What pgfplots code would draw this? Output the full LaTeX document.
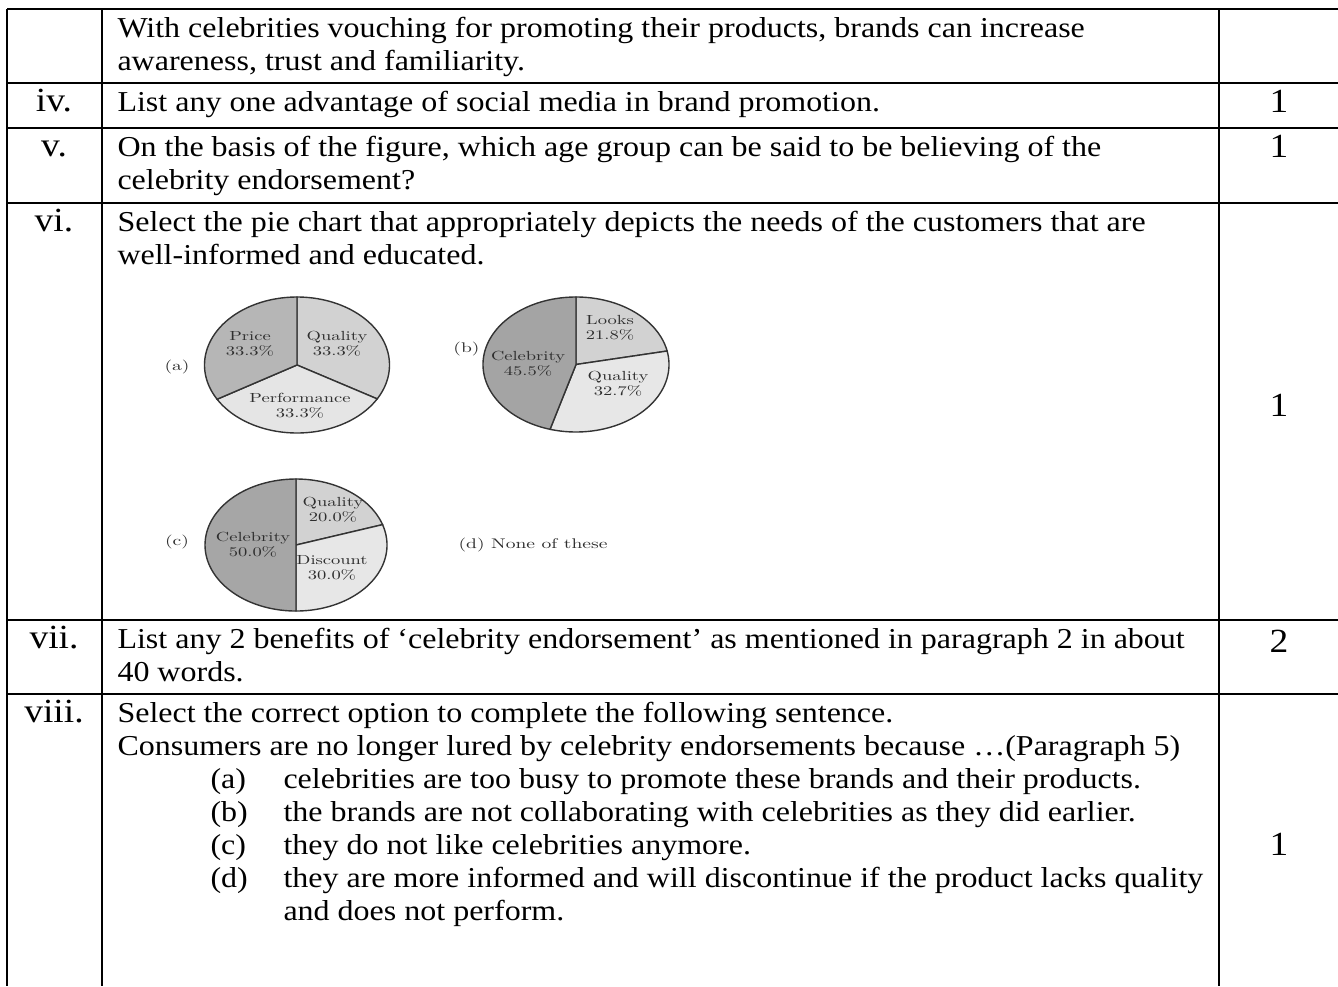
\documentclass[border=0pt]{standalone}
\usepackage{fontspec}
\newfontfamily\tnr{Liberation Serif}[FakeStretch=1.11]
\newfontfamily\lmten{lmroman10-regular}[Extension=.otf, FakeStretch=1.4]
\usepackage{pgfplots}
\pgfplotsset{compat=1.18}
\definecolor{pieedge}{HTML}{333333}
\definecolor{pietext}{HTML}{2E2E2E}
\definecolor{aPrice}{HTML}{B6B6B6}
\definecolor{aQual}{HTML}{D2D2D2}
\definecolor{aPerf}{HTML}{E5E5E5}
\definecolor{bCeleb}{HTML}{A4A4A4}
\definecolor{bLooks}{HTML}{D2D2D2}
\definecolor{bQual}{HTML}{E7E7E7}
\definecolor{cCeleb}{HTML}{A6A6A6}
\definecolor{cQual}{HTML}{D2D2D2}
\definecolor{cDisc}{HTML}{E7E7E7}
% slice: #1 = cumulative percent before slice (clockwise from top), #2 = percent, #3 = colour
\newcommand\pieslice[3]{%
  \pgfmathsetmacro\angA{90-3.6*(#1)}%
  \pgfmathsetmacro\angB{90-3.6*(#1+#2)}%
  \edef\doslice{\noexpand\addplot[fill=#3, draw=pieedge, line width=0.55pt, domain=\angB:\angA, samples=90, variable=\noexpand\t] ({cos(\noexpand\t)},{sin(\noexpand\t)}) -- (axis cs:0,0) -- cycle;}%
  \doslice}
\pgfplotsset{pieaxis/.style={scale only axis, hide axis, clip=false, anchor=center,
  xmin=-1, xmax=1, ymin=-1, ymax=1}}
\newcommand\pl[2]{\begin{tabular}{@{}c@{}}#1\\#2\end{tabular}}
\newcommand\piefont{\lmten\color{pietext}\fontsize{5.2}{5.9}\selectfont}
\newcommand\optfont{\lmten\color{pietext}\fontsize{5.5}{6.2}\selectfont}
\newcommand\txt{\tnr\fontsize{11.35}{13}\selectfont}
\newcommand\numfont{\tnr\fontsize{13.3}{15}\selectfont}
\begin{document}
\begin{tikzpicture}
\useasboundingbox (0pt,0pt) rectangle (526.77pt,-388.19pt);
\begin{scope}[x=0.3937pt, y=-0.3937pt]
  % table rules
  \begin{scope}[line width=0.8pt]
    \draw (7,9) -- (1338,9);
    \foreach \yy in {83,128,203,620,694} \draw (7,\yy) -- (1338,\yy);
    \foreach \xx in {7,102,1219} \draw (\xx,9) -- (\xx,986);
  \end{scope}
  % column 1 labels
  \foreach \lab/\yy in {iv./106, v./151, vi./226, vii./643, viii./717}
    \node[anchor=mid, inner sep=0pt, font=\numfont] at (54,\yy) {\lab};
  % column 3 marks
  \foreach \lab/\yy in {1/107, 1/152, 1/411, 2/647, 1/850}
    \node[anchor=mid, inner sep=0pt, font=\numfont] at (1279,\yy) {\lab};
  % column 2 text
  \begin{scope}[every node/.style={anchor=mid west, inner sep=0pt, font=\txt}]
    \node at (117,32) {With celebrities vouching for promoting their products, brands can increase};
    \node at (117,65) {awareness, trust and familiarity.};
    \node at (117,106) {List any one advantage of social media in brand promotion.};
    \node at (117,151) {On the basis of the figure, which age group can be said to be believing of the};
    \node at (117,184) {celebrity endorsement?};
    \node at (117,226) {Select the pie chart that appropriately depicts the needs of the customers that are};
    \node at (117,259) {well-informed and educated.};
    \node at (117,643) {List any 2 benefits of ‘celebrity endorsement’ as mentioned in paragraph 2 in about};
    \node at (117,676) {40 words.};
    \node at (117,717) {Select the correct option to complete the following sentence.};
    \node at (117,750) {Consumers are no longer lured by celebrity endorsements because …(Paragraph 5)};
    \node at (210,783) {(a)};
    \node at (283,783) {celebrities are too busy to promote these brands and their products.};
    \node at (210,816) {(b)};
    \node at (283,816) {the brands are not collaborating with celebrities as they did earlier.};
    \node at (210,849) {(c)};
    \node at (283,849) {they do not like celebrities anymore.};
    \node at (210,882) {(d)};
    \node at (283,882) {they are more informed and will discontinue if the product lacks quality};
    \node at (283,915) {and does not perform.};
  \end{scope}
\end{scope}
% pie (a)
\begin{axis}[pieaxis, at={(116.93pt,-143.70pt)}, width=72.83pt, height=53.54pt]
  \pieslice{0}{33.3}{aQual}
  \pieslice{33.3}{33.3}{aPerf}
  \pieslice{66.6}{33.4}{aPrice}
\end{axis}
% pie (b)
\begin{axis}[pieaxis, at={(226.77pt,-143.50pt)}, width=73.23pt, height=53.15pt]
  \pieslice{0}{21.8}{bLooks}
  \pieslice{21.8}{32.7}{bQual}
  \pieslice{54.5}{45.5}{bCeleb}
\end{axis}
% pie (c)
\begin{axis}[pieaxis, at={(116.54pt,-214.57pt)}, width=71.65pt, height=51.97pt]
  \pieslice{0}{20.0}{cQual}
  \pieslice{20.0}{30.0}{cDisc}
  \pieslice{50.0}{50.0}{cCeleb}
\end{axis}
\begin{scope}[x=0.3937pt, y=-0.3937pt, every node/.style={inner sep=0pt, font=\piefont}]
  \node at (250,344.5) {\pl{Price}{33.3\%}};
  \node at (337,344.5) {\pl{Quality}{33.3\%}};
  \node at (300,406.5) {\pl{Performance}{33.3\%}};
  \node at (610,329) {\pl{Looks}{21.8\%}};
  \node at (528,364.5) {\pl{Celebrity}{45.5\%}};
  \node at (618,385) {\pl{Quality}{32.7\%}};
  \node at (333,510.5) {\pl{Quality}{20.0\%}};
  \node at (253,545.5) {\pl{Celebrity}{50.0\%}};
  \node at (332,568.5) {\pl{Discount}{30.0\%}};
  \node[font=\optfont] at (177,367) {(a)};
  \node[font=\optfont, anchor=east] at (480,349) {(b)};
  \node[font=\optfont] at (177,542) {(c)};
  \node[font=\optfont, anchor=mid west] at (458,543) {(d) None of these};
\end{scope}
\end{tikzpicture}
\end{document}
